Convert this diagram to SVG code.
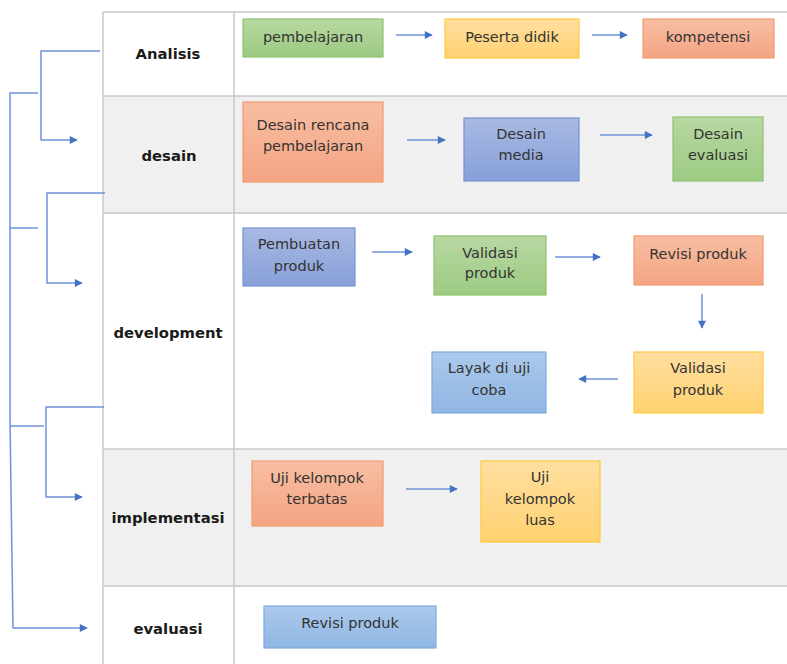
<svg xmlns="http://www.w3.org/2000/svg" width="787" height="664" viewBox="0 0 787 664">
<defs>
<linearGradient id="gGreen" x1="0" y1="0" x2="0" y2="1"><stop offset="0" stop-color="#b7d8a2"/><stop offset="1" stop-color="#9dca82"/></linearGradient>
<linearGradient id="gOrange" x1="0" y1="0" x2="0" y2="1"><stop offset="0" stop-color="#f8bea3"/><stop offset="1" stop-color="#f4a482"/></linearGradient>
<linearGradient id="gYellow" x1="0" y1="0" x2="0" y2="1"><stop offset="0" stop-color="#ffdfa0"/><stop offset="1" stop-color="#ffd170"/></linearGradient>
<linearGradient id="gPurple" x1="0" y1="0" x2="0" y2="1"><stop offset="0" stop-color="#a9b9e3"/><stop offset="1" stop-color="#87a0d9"/></linearGradient>
<linearGradient id="gBlue" x1="0" y1="0" x2="0" y2="1"><stop offset="0" stop-color="#abc9eb"/><stop offset="1" stop-color="#90b6e3"/></linearGradient>
<marker id="arr" viewBox="0 0 10 10" refX="9" refY="5" markerWidth="9" markerHeight="8" markerUnits="userSpaceOnUse" orient="auto">
<path d="M0,0 L10,5 L0,10 z" fill="#4472c4"/>
</marker>
<style>
.grid{stroke:#c8c8c8;stroke-width:1.5;fill:none}
.lbl{font-family:"DejaVu Sans",Verdana,sans-serif;font-weight:bold;font-size:14.8px;fill:#1a1a1a;text-anchor:middle}
.nt{font-family:"DejaVu Sans",Verdana,sans-serif;font-size:14.5px;fill:#333;text-anchor:middle}
.green{fill:url(#gGreen);stroke:#8fc26f;stroke-width:1.2}
.orange{fill:url(#gOrange);stroke:#f19b70;stroke-width:1.2}
.yellow{fill:url(#gYellow);stroke:#ffc93e;stroke-width:1.2}
.purple{fill:url(#gPurple);stroke:#7393d3;stroke-width:1.2}
.blue{fill:url(#gBlue);stroke:#7eacdf;stroke-width:1.2}
.con{stroke:#6f93d8;stroke-width:1.5;fill:none}
.ar{marker-end:url(#arr)}
</style>
</defs>
<rect width="787" height="664" fill="#ffffff"/>
<g id="table">
<rect x="103" y="96" width="684" height="117" fill="#f0f0f0"/>
<rect x="103" y="449" width="684" height="137" fill="#f0f0f0"/>
<line class="grid" x1="103" y1="12" x2="787" y2="12"/>
<line class="grid" x1="103" y1="96" x2="787" y2="96"/>
<line class="grid" x1="103" y1="213" x2="787" y2="213"/>
<line class="grid" x1="103" y1="449" x2="787" y2="449"/>
<line class="grid" x1="103" y1="586" x2="787" y2="586"/>
<line class="grid" x1="103" y1="12" x2="103" y2="664"/>
<line class="grid" x1="234" y1="12" x2="234" y2="664"/>
<text class="lbl" x="168" y="59">Analisis</text>
<text class="lbl" x="169" y="161">desain</text>
<text class="lbl" x="168" y="338">development</text>
<text class="lbl" x="168" y="523">implementasi</text>
<text class="lbl" x="168" y="634">evaluasi</text>
</g>
<g id="n-pembelajaran"><rect class="green" x="243" y="19" width="140" height="38"/><text class="nt" x="313" y="42">pembelajaran</text></g>
<g id="n-peserta"><rect class="yellow" x="445" y="19" width="134" height="39"/><text class="nt" x="512" y="42">Peserta didik</text></g>
<g id="n-kompetensi"><rect class="orange" x="643" y="19" width="131" height="39"/><text class="nt" x="708" y="42">kompetensi</text></g>
<g id="n-desain-rencana"><rect class="orange" x="243" y="102" width="140" height="80"/><text class="nt" x="313" y="130">Desain rencana</text><text class="nt" x="313" y="151">pembelajaran</text></g>
<g id="n-desain-media"><rect class="purple" x="464" y="118" width="115" height="63"/><text class="nt" x="521" y="139">Desain</text><text class="nt" x="521" y="160">media</text></g>
<g id="n-desain-evaluasi"><rect class="green" x="673" y="117" width="90" height="64"/><text class="nt" x="718" y="139">Desain</text><text class="nt" x="718" y="160">evaluasi</text></g>
<g id="n-pembuatan"><rect class="purple" x="243" y="228" width="112" height="58"/><text class="nt" x="299" y="249">Pembuatan</text><text class="nt" x="299" y="271">produk</text></g>
<g id="n-validasi1"><rect class="green" x="434" y="236" width="112" height="59"/><text class="nt" x="490" y="258">Validasi</text><text class="nt" x="490" y="278">produk</text></g>
<g id="n-revisi1"><rect class="orange" x="634" y="236" width="129" height="49"/><text class="nt" x="698" y="259">Revisi produk</text></g>
<g id="n-validasi2"><rect class="yellow" x="634" y="352" width="129" height="61"/><text class="nt" x="698" y="373">Validasi</text><text class="nt" x="698" y="395">produk</text></g>
<g id="n-layak"><rect class="blue" x="432" y="352" width="114" height="61"/><text class="nt" x="489" y="373">Layak di uji</text><text class="nt" x="489" y="395">coba</text></g>
<g id="n-uji-terbatas"><rect class="orange" x="252" y="461" width="131" height="65"/><text class="nt" x="317" y="483">Uji kelompok</text><text class="nt" x="317" y="504">terbatas</text></g>
<g id="n-uji-luas"><rect class="yellow" x="481" y="461" width="119" height="81"/><text class="nt" x="540" y="482">Uji</text><text class="nt" x="540" y="504">kelompok</text><text class="nt" x="540" y="525">luas</text></g>
<g id="n-revisi2"><rect class="blue" x="264" y="606" width="172" height="42"/><text class="nt" x="350" y="628">Revisi produk</text></g>
<g id="connectors">
<line class="con ar" x1="396" y1="35" x2="432" y2="35"/>
<line class="con ar" x1="592" y1="35" x2="627" y2="35"/>
<line class="con ar" x1="407" y1="140" x2="445" y2="140"/>
<line class="con ar" x1="600" y1="135" x2="652" y2="135"/>
<line class="con ar" x1="372" y1="252" x2="412" y2="252"/>
<line class="con ar" x1="555" y1="257" x2="600" y2="257"/>
<line class="con ar" x1="702" y1="294" x2="702" y2="328"/>
<line class="con ar" x1="618" y1="379" x2="579" y2="379"/>
<line class="con ar" x1="406" y1="489" x2="457" y2="489"/>
<polyline class="con ar" points="100,51 41,51 41,140 77,140"/>
<polyline class="con ar" points="105,193 47,193 47,283 82,283"/>
<polyline class="con ar" points="104,407 46,407 46,497 82,497"/>
<polyline class="con ar" points="38,93 10,93 10,420 13,628 87,628"/>
<line class="con" x1="10" y1="228" x2="38" y2="228"/>
<line class="con" x1="10" y1="426" x2="44" y2="426"/>
</g>
</svg>
